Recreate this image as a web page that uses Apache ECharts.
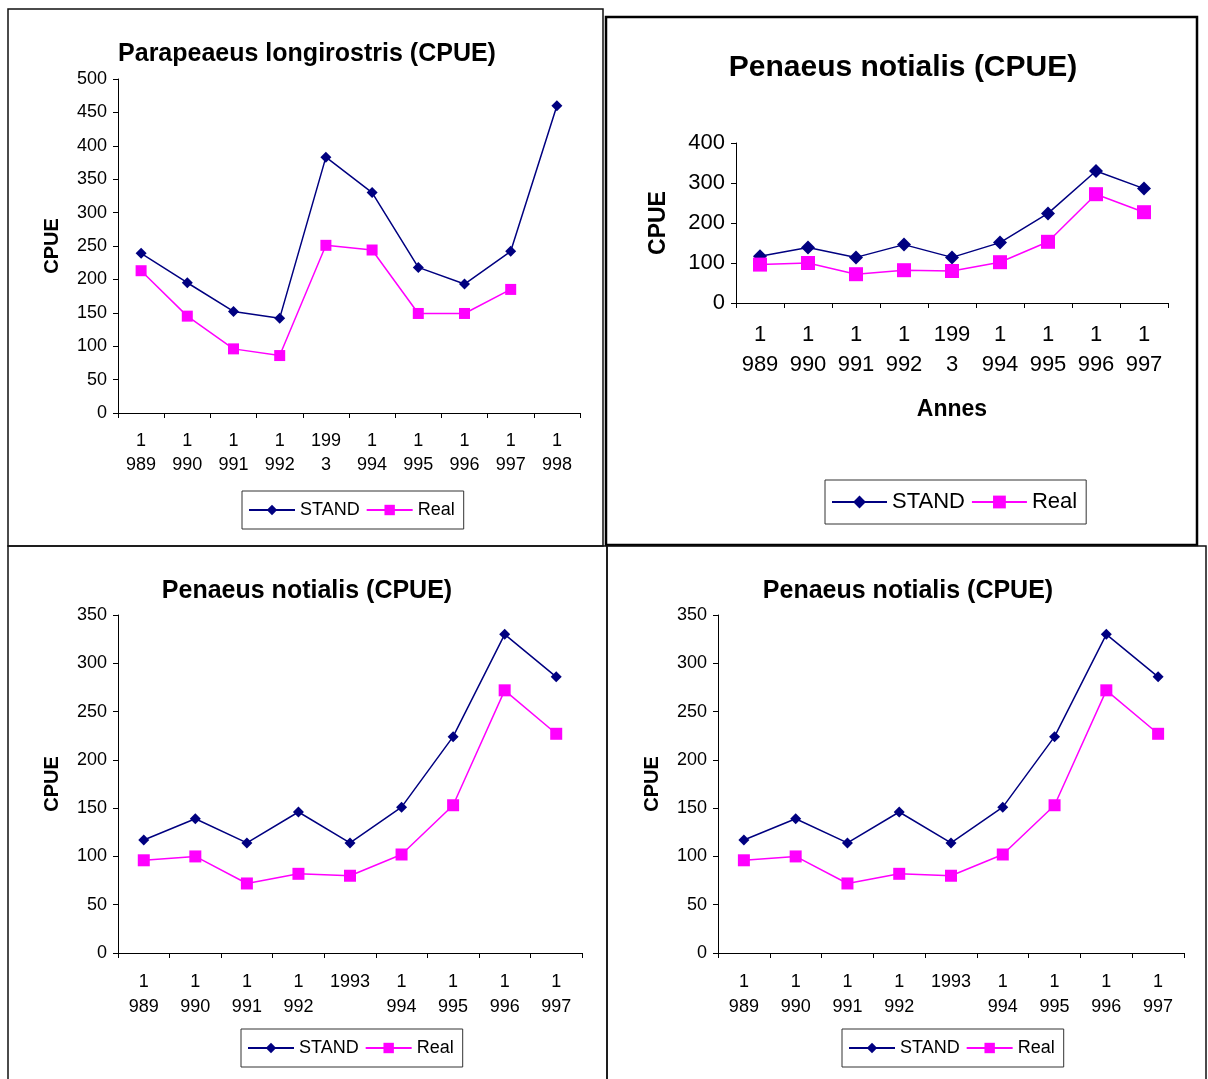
<!DOCTYPE html>
<html>
<head>
<meta charset="utf-8">
<title>CPUE</title>
<script src="https://cdn.jsdelivr.net/npm/echarts@6/dist/echarts.min.js"></script>
<style>
  html, body { margin: 0; padding: 0; background: #fff; }
  #chart { width: 1208px; height: 1079px; }
</style>
</head>
<body>
<div id="chart"></div>
<script>
// data
const yearsA = ["1\n989", "1\n990", "1\n991", "1\n992", "199\n3", "1\n994", "1\n995", "1\n996", "1\n997", "1\n998"];
const yearsB = ["1\n989", "1\n990", "1\n991", "1\n992", "199\n3", "1\n994", "1\n995", "1\n996", "1\n997"];
const yearsC = ["1\n989", "1\n990", "1\n991", "1\n992", "1993", "1\n994", "1\n995", "1\n996", "1\n997"];

const paraStand = [239, 195, 152, 142, 383, 330, 218, 193, 242, 460];
const paraReal = [213, 145, 96, 86, 251, 244, 149, 149, 185, null];

const penStand = [117, 139, 114, 146, 114, 151, 224, 330, 286];
const penReal = [96, 100, 72, 82, 80, 102, 153, 272, 227];

const FONT = "Liberation Sans, Arial, sans-serif";
const NAVY = "#000080";
const PINK = "#ff00ff";

// one panel = grid + axes + 2 series + title + legend
const panels = [
  {
    title: "Parapeaeus longirostris (CPUE)", titleX: 307, titleY: 54, titleSize: 25,
    grid: { left: 118, top: 79, width: 462, height: 334 },
    cats: yearsA, stand: paraStand, real: paraReal,
    max: 500, interval: 50, fs: 18, lh: 24, margin: 16,
    nameGap: 56, nameSize: 20, xName: "",
    legend: { left: 242, top: 491 }, legW: 46, legH: 13, sym: 11, sq: 11, pad: 10
  },
  {
    title: "Penaeus notialis (CPUE)", titleX: 903, titleY: 68, titleSize: 30,
    grid: { left: 736, top: 143, width: 432, height: 160 },
    cats: yearsB, stand: penStand, real: penReal,
    max: 400, interval: 100, fs: 22, lh: 30, margin: 17,
    nameGap: 66, nameSize: 23, xName: "Annes",
    legend: { left: 825, top: 480 }, legW: 55, legH: 16, sym: 14, sq: 14, pad: 11
  },
  {
    title: "Penaeus notialis (CPUE)", titleX: 307, titleY: 591, titleSize: 25,
    grid: { left: 118, top: 615, width: 464, height: 338 },
    cats: yearsC, stand: penStand, real: penReal,
    max: 350, interval: 50, fs: 18, lh: 25, margin: 17,
    nameGap: 56, nameSize: 20, xName: "",
    legend: { left: 241, top: 1029 }, legW: 46, legH: 13, sym: 11, sq: 12, pad: 10
  },
  {
    title: "Penaeus notialis (CPUE)", titleX: 908, titleY: 591, titleSize: 25,
    grid: { left: 718, top: 615, width: 466, height: 338 },
    cats: yearsC, stand: penStand, real: penReal,
    max: 350, interval: 50, fs: 18, lh: 25, margin: 17,
    nameGap: 56, nameSize: 20, xName: "",
    legend: { left: 842, top: 1029 }, legW: 46, legH: 13, sym: 11, sq: 12, pad: 10
  }
];

const option = {
  backgroundColor: "#fff",
  animation: false,
  textStyle: { fontFamily: FONT, color: "#000" },
  title: [],
  legend: [],
  grid: [],
  xAxis: [],
  yAxis: [],
  series: [],
  graphic: [
    // panel frames
    { type: "rect", shape: { x: 8, y: 9, width: 595, height: 537 }, style: { fill: "none", stroke: "#111", lineWidth: 1.5 } },
    { type: "rect", shape: { x: 606, y: 17, width: 591, height: 528 }, style: { fill: "none", stroke: "#000", lineWidth: 2.5 } },
    { type: "rect", shape: { x: 8, y: 546, width: 599, height: 540 }, style: { fill: "none", stroke: "#111", lineWidth: 1.5 } },
    { type: "rect", shape: { x: 607, y: 546, width: 599, height: 540 }, style: { fill: "none", stroke: "#111", lineWidth: 1.5 } }
  ]
};

panels.forEach((p, i) => {
  option.title.push({
    text: p.title,
    left: p.titleX, top: p.titleY,
    padding: 0,
    textAlign: "center", textVerticalAlign: "middle",
    textStyle: { fontFamily: FONT, fontSize: p.titleSize, fontWeight: "bold", color: "#000" }
  });
  option.grid.push(Object.assign({ containLabel: false }, p.grid));
  option.xAxis.push({
    type: "category", gridIndex: i, data: p.cats,
    name: p.xName, nameLocation: "middle", nameGap: 95,
    nameTextStyle: { fontFamily: FONT, fontSize: 23, fontWeight: "bold", color: "#000" },
    axisLine: { lineStyle: { color: "#000", width: 1 } },
    axisTick: { show: true, inside: false, length: 5, lineStyle: { color: "#000" } },
    axisLabel: { interval: 0, margin: p.margin, fontSize: p.fs, lineHeight: p.lh, color: "#000", fontFamily: FONT },
    splitLine: { show: false }
  });
  option.yAxis.push({
    type: "value", gridIndex: i, min: 0, max: p.max, interval: p.interval,
    name: "CPUE", nameLocation: "middle", nameRotate: 90, nameGap: p.nameGap,
    nameTextStyle: { fontFamily: FONT, fontSize: p.nameSize, fontWeight: "bold", color: "#000" },
    axisLine: { show: true, lineStyle: { color: "#000", width: 1 } },
    axisTick: { show: true, inside: false, length: 5, lineStyle: { color: "#000" } },
    axisLabel: { margin: 11, fontSize: p.fs, color: "#000", fontFamily: FONT },
    splitLine: { show: false }
  });
  option.series.push({
    name: "STAND", type: "line", xAxisIndex: i, yAxisIndex: i,
    data: p.stand, symbol: "diamond", symbolSize: p.sym,
    lineStyle: { color: NAVY, width: 1.5 }, itemStyle: { color: NAVY },
    emphasis: { disabled: true }
  });
  option.series.push({
    name: "Real", type: "line", xAxisIndex: i, yAxisIndex: i,
    data: p.real, symbol: "rect", symbolSize: p.sq, connectNulls: false,
    lineStyle: { color: PINK, width: 1.5 }, itemStyle: { color: PINK },
    emphasis: { disabled: true }
  });
  option.legend.push({
    data: ["STAND", "Real"],
    left: p.legend.left, top: p.legend.top,
    orient: "horizontal",
    itemWidth: p.legW, itemHeight: p.legH, itemGap: 6,
    padding: [p.pad, 9, p.pad, 6],
    borderColor: "#333", borderWidth: 1,
    selectedMode: false,
    textStyle: { fontFamily: FONT, fontSize: p.fs, color: "#000" }
  });
});

const chart = echarts.init(document.getElementById("chart"));
chart.setOption(option);
</script>
</body>
</html>
